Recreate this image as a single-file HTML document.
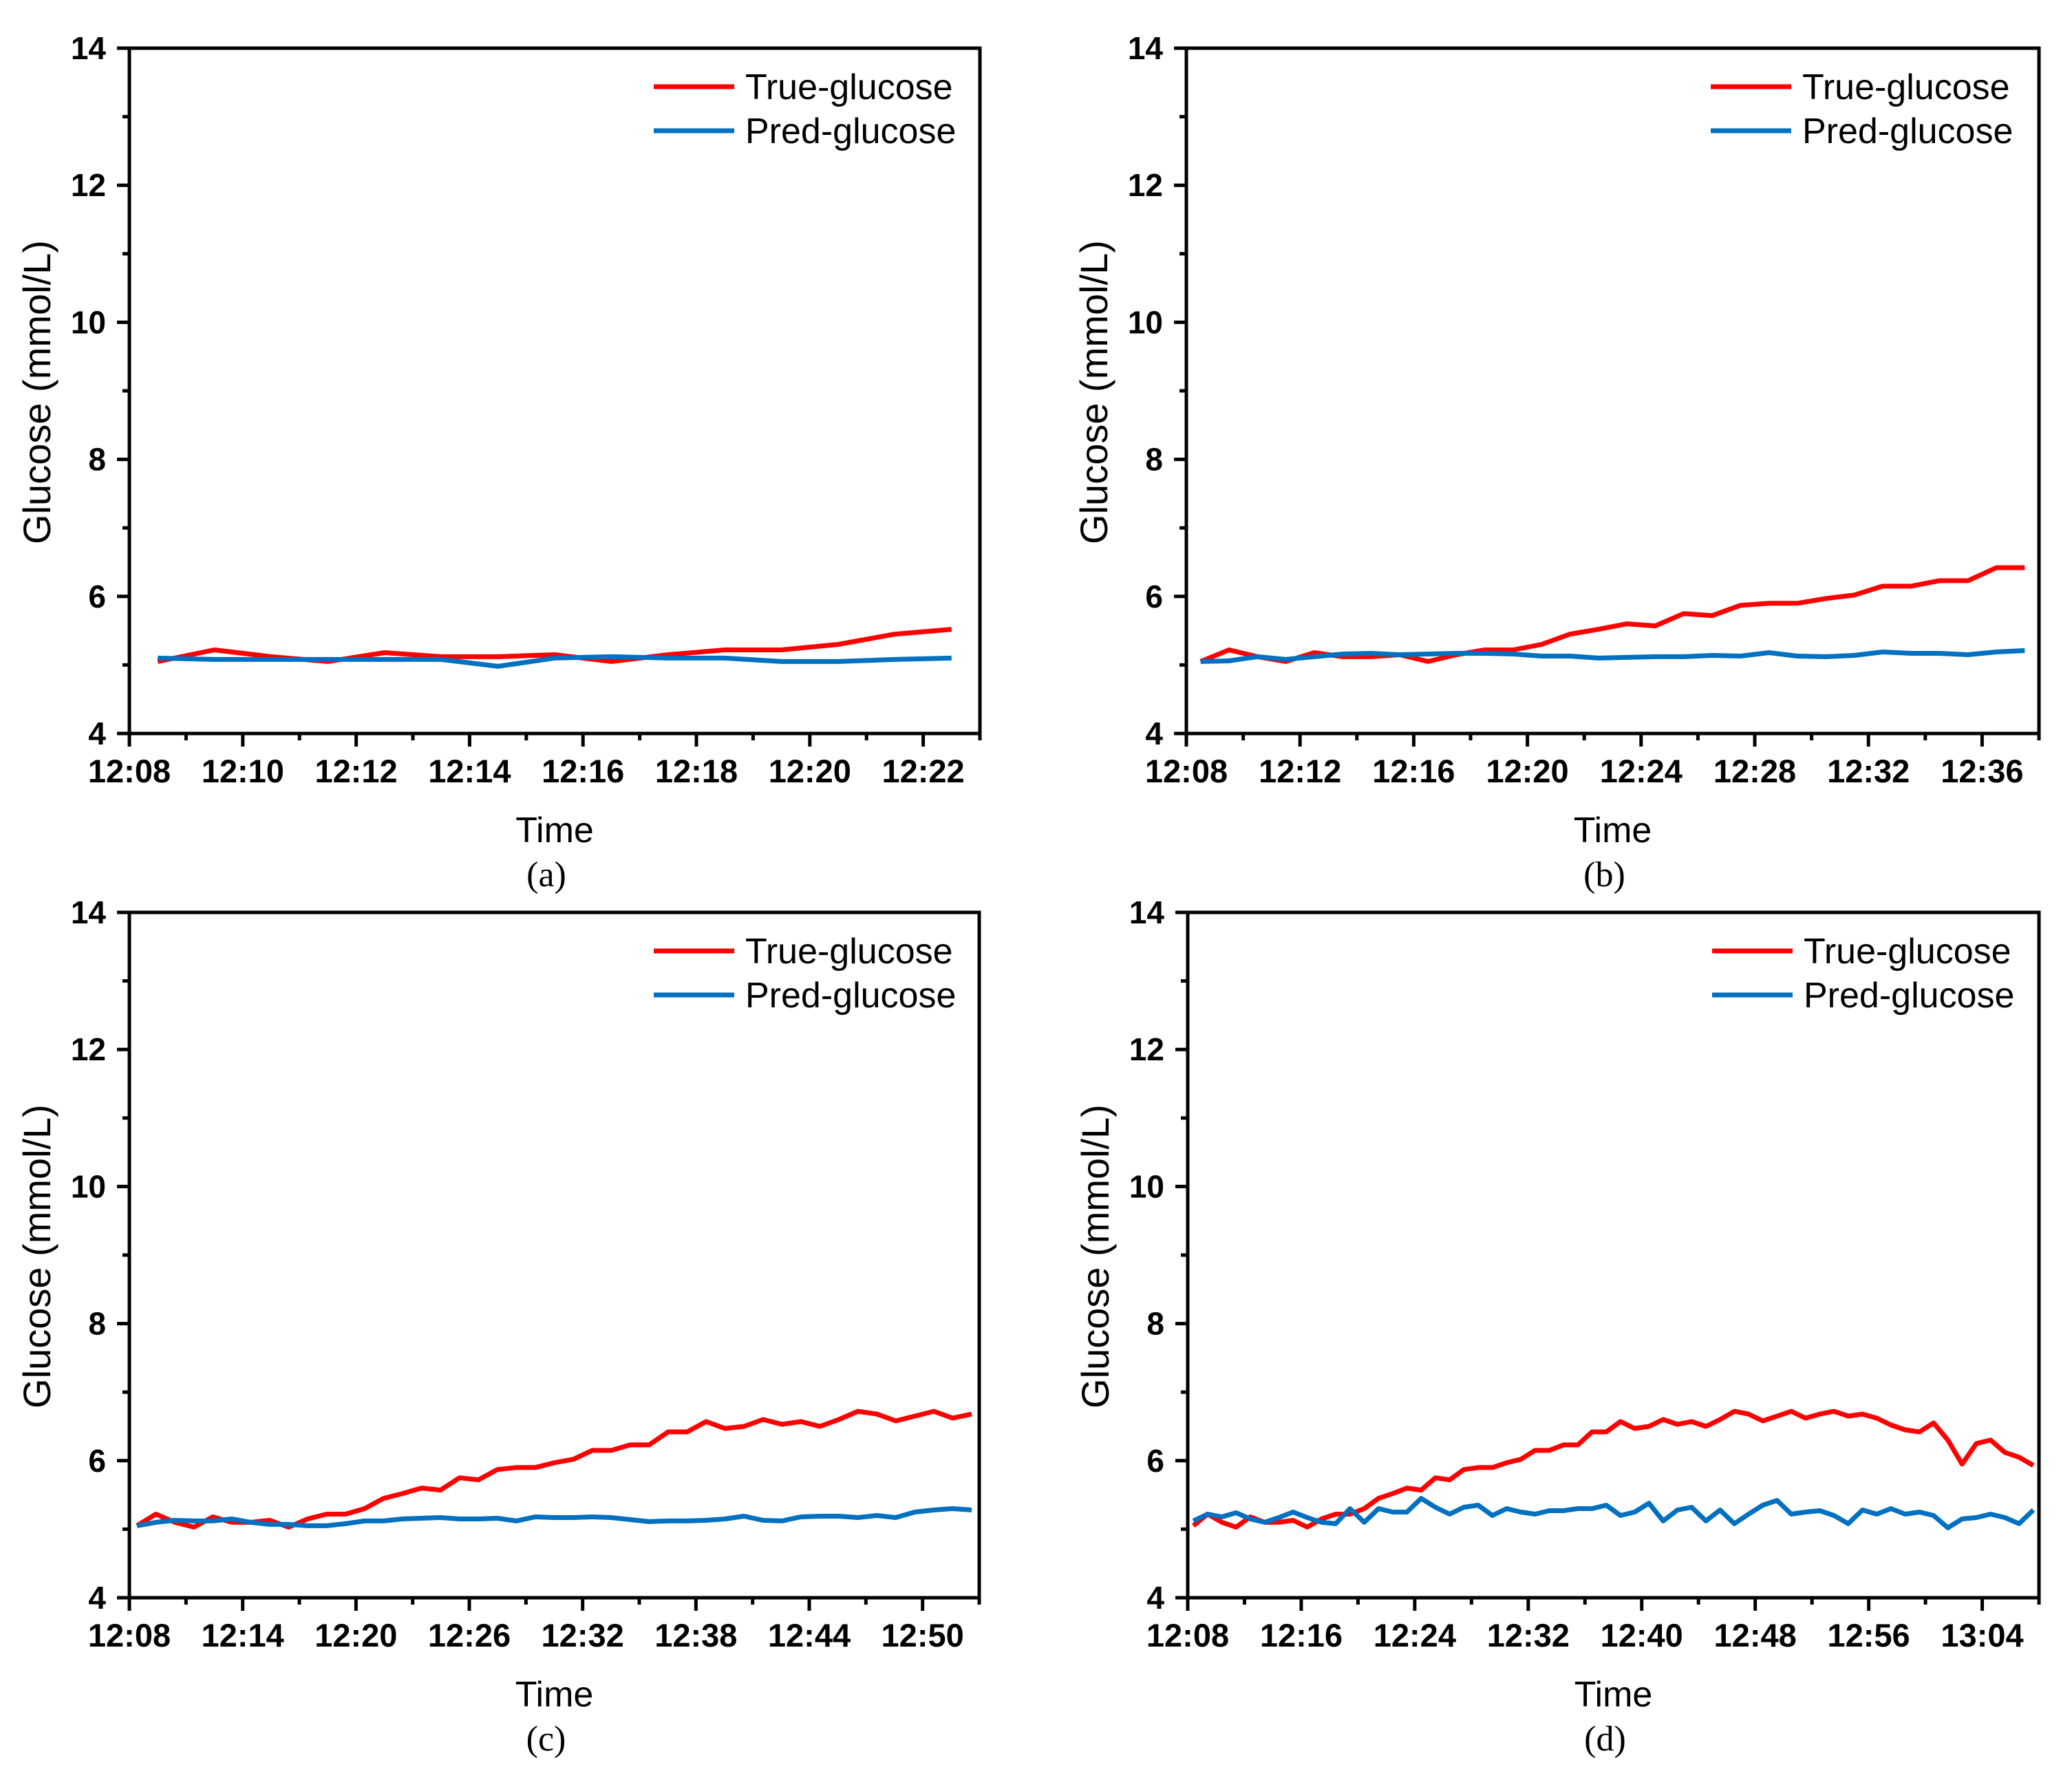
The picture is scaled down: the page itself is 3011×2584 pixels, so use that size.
<!DOCTYPE html>
<html><head><meta charset="utf-8"><style>
html,body{margin:0;padding:0;background:#fff;}
svg{display:block;font-family:"Liberation Sans",Arial,sans-serif;}
</style></head><body>
<svg id="fig" width="3011" height="2584" viewBox="0 0 3011 2584" xmlns="http://www.w3.org/2000/svg"></svg>
<script>
// Panel (a)
const trueA = [5.05,5.22,5.12,5.05,5.18,5.12,5.12,5.15,5.05,5.15,5.22,5.22,5.3,5.45,5.52];
const predA = [5.1,5.08,5.08,5.08,5.08,5.08,4.98,5.1,5.12,5.1,5.1,5.05,5.05,5.08,5.1];
const ticksA = ["12:08","12:10","12:12","12:14","12:16","12:18","12:20","12:22"];
// Panel (b)
const trueB = [5.05,5.22,5.12,5.05,5.18,5.12,5.12,5.15,5.05,5.15,5.22,5.22,5.3,5.45,5.52,5.6,5.57,5.75,5.72,5.87,5.9,5.9,5.97,6.02,6.15,6.15,6.23,6.23,6.42,6.42];
const predB = [5.05,5.06,5.12,5.08,5.12,5.16,5.17,5.15,5.16,5.17,5.17,5.16,5.13,5.13,5.1,5.11,5.12,5.12,5.14,5.13,5.18,5.13,5.12,5.14,5.19,5.17,5.17,5.15,5.19,5.21];
const ticksB = ["12:08","12:12","12:16","12:20","12:24","12:28","12:32","12:36"];
// Panel (c)
const trueC = [5.05,5.22,5.1,5.03,5.18,5.1,5.1,5.13,5.03,5.15,5.22,5.22,5.3,5.45,5.52,5.6,5.57,5.75,5.72,5.87,5.9,5.9,5.97,6.02,6.15,6.15,6.23,6.23,6.42,6.42,6.57,6.47,6.5,6.6,6.53,6.57,6.5,6.6,6.72,6.68,6.58,6.65,6.72,6.62,6.68];
const predC = [5.05,5.1,5.13,5.12,5.12,5.15,5.1,5.07,5.07,5.05,5.05,5.08,5.12,5.12,5.15,5.16,5.17,5.15,5.15,5.16,5.12,5.18,5.17,5.17,5.18,5.17,5.14,5.11,5.12,5.12,5.13,5.15,5.19,5.13,5.12,5.18,5.19,5.19,5.17,5.2,5.17,5.25,5.28,5.3,5.28];
const ticksC = ["12:08","12:14","12:20","12:26","12:32","12:38","12:44","12:50"];
// Panel (d)
const trueD = [5.05,5.22,5.1,5.03,5.18,5.1,5.1,5.13,5.03,5.15,5.22,5.22,5.3,5.45,5.52,5.6,5.57,5.75,5.72,5.87,5.9,5.9,5.97,6.02,6.15,6.15,6.23,6.23,6.42,6.42,6.57,6.47,6.5,6.6,6.53,6.57,6.5,6.6,6.72,6.68,6.58,6.65,6.72,6.62,6.68,6.72,6.65,6.68,6.62,6.52,6.45,6.42,6.55,6.3,5.95,6.25,6.3,6.12,6.05,5.93];
const predD = [5.12,5.22,5.18,5.24,5.15,5.1,5.17,5.25,5.17,5.1,5.08,5.3,5.1,5.3,5.25,5.25,5.45,5.32,5.22,5.32,5.35,5.2,5.3,5.25,5.22,5.27,5.27,5.3,5.3,5.35,5.2,5.25,5.38,5.12,5.28,5.32,5.12,5.28,5.08,5.22,5.35,5.42,5.22,5.25,5.27,5.2,5.08,5.28,5.22,5.3,5.22,5.25,5.2,5.02,5.15,5.17,5.22,5.17,5.08,5.28];
const ticksD = ["12:08","12:16","12:24","12:32","12:40","12:48","12:56","13:04"];
const yTicks = [4,6,8,10,12,14];

const NS = "http://www.w3.org/2000/svg";
const fig = document.getElementById("fig");
function mk(tag, attrs, parent, text){
  const e = document.createElementNS(NS, tag);
  for (const k in attrs) e.setAttribute(k, attrs[k]);
  if (text !== undefined) e.textContent = text;
  (parent || fig).appendChild(e);
  return e;
}
const panels = [
  {id:"a", L:188, R:1424, T:70, B:1066, maxMin:15, step:2, t0:0.5, t1:14.5, tr:trueA, pr:predA, ticks:ticksA},
  {id:"b", L:1724, R:2963, T:70, B:1066, maxMin:30, step:4, t0:0.5, t1:29.5, tr:trueB, pr:predB, ticks:ticksB},
  {id:"c", L:188, R:1423, T:1326, B:2322, maxMin:45, step:6, t0:0.4, t1:44.6, tr:trueC, pr:predC, ticks:ticksC},
  {id:"d", L:1726, R:2963, T:1326, B:2322, maxMin:60, step:8, t0:0.4, t1:59.6, tr:trueD, pr:predD, ticks:ticksD}
];
panels.forEach(p => {
  const g = mk("g", {});
  
  
  const xs = m => p.L + (m / p.maxMin) * (p.R - p.L);
  const ys = v => p.B - (v - 4) / 10 * (p.B - p.T);
  [[p.tr, "#ff0000", "true-glucose-line"], [p.pr, "#0070c0", "pred-glucose-line"]].forEach(s => {
    const n = s[0].length;
    const pts = s[0].map((v, i) => xs(p.t0 + i * (p.t1 - p.t0) / (n - 1)).toFixed(1) + "," + ys(v).toFixed(1)).join(" ");
    const pl = mk("polyline", {points: pts, fill: "none", stroke: s[1], "stroke-width": 7, "stroke-linejoin": "round"}, g);
    
    
  });
  const fr = mk("rect", {x: p.L, y: p.T, width: p.R - p.L, height: p.B - p.T, fill: "none", stroke: "#000", "stroke-width": 5}, g);
  
  
  yTicks.forEach(v => {
    mk("line", {x1: p.L - 18, x2: p.L, y1: ys(v), y2: ys(v), stroke: "#000", "stroke-width": 5}, g);
    if (v < 14) mk("line", {x1: p.L - 10, x2: p.L, y1: ys(v + 1), y2: ys(v + 1), stroke: "#000", "stroke-width": 5}, g);
    const t = mk("text", {x: p.L - 34, y: ys(v) + 16, "text-anchor": "end", "font-size": 46, "font-weight": "bold"}, g, String(v));
    
    
  });
  p.ticks.forEach((lab, i) => {
    const x = xs(i * p.step);
    mk("line", {x1: x, x2: x, y1: p.B, y2: p.B + 19, stroke: "#000", "stroke-width": 5}, g);
    const xm = xs(i * p.step + p.step / 2);
    if (xm <= p.R + 1) mk("line", {x1: xm, x2: xm, y1: p.B, y2: p.B + 10, stroke: "#000", "stroke-width": 5}, g);
    const t = mk("text", {x: x, y: p.B + 71, "text-anchor": "middle", "font-size": 47, "font-weight": "bold"}, g, lab);
    
    
  });
  const cx = (p.L + p.R) / 2;
  const xt = mk("text", {x: cx, y: p.B + 158, "text-anchor": "middle", "font-size": 52}, g, "Time");
  
  
  const cap = mk("text", {x: cx - 12, y: p.B + 222, "text-anchor": "middle", "font-size": 52, "font-family": "Liberation Serif, serif"}, g, "(" + p.id + ")");
  
  
  const yx = p.L - 115, yy = (p.T + p.B) / 2 + 2;
  const yt = mk("text", {x: yx, y: yy, "text-anchor": "middle", "font-size": 56, transform: "rotate(-90 " + yx + " " + yy + ")"}, g, "Glucose (mmol/L)");
  
  
  const lx = p.L + 762, ly = p.T + 56;
  [["True-glucose", "#ff0000", 0], ["Pred-glucose", "#0070c0", 64]].forEach(e => {
    const lg = mk("g", {}, g);
    
    
    mk("line", {x1: lx, x2: lx + 117, y1: ly + e[2], y2: ly + e[2], stroke: e[1], "stroke-width": 7}, lg);
    mk("text", {x: lx + 133, y: ly + e[2] + 18, "font-size": 52}, lg, e[0]);
  });
});
</script>
</body></html>
